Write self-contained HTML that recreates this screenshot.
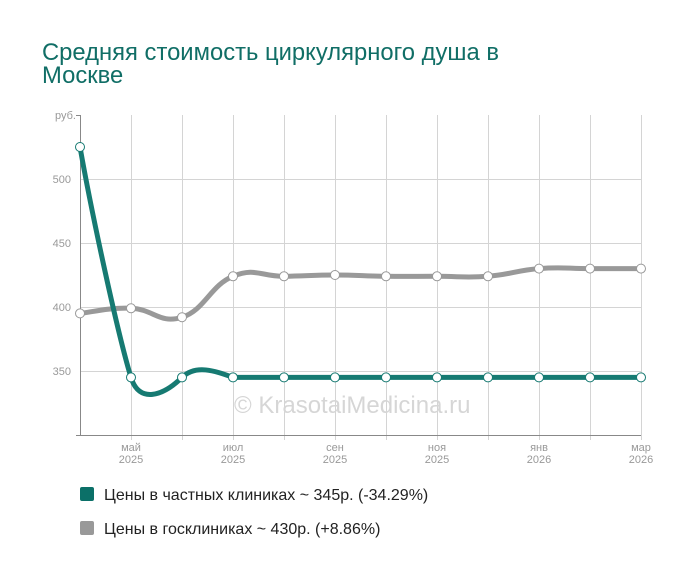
<!DOCTYPE html>
<html><head><meta charset="utf-8"><style>
body{margin:0;background:#fff;width:700px;height:578px;overflow:hidden;font-family:"Liberation Sans",sans-serif}
</style></head><body>
<svg id="s" width="700" height="578" xmlns="http://www.w3.org/2000/svg" font-family="Liberation Sans, sans-serif">
<text x="42" y="60" font-size="23.8" fill="#106e66">Средняя стоимость циркулярного душа в</text>
<text x="42" y="83" font-size="23.8" fill="#106e66">Москве</text>
<g stroke="#d4d4d4" stroke-width="1">
<line x1="80" y1="179.5" x2="641" y2="179.5"/><line x1="80" y1="243.5" x2="641" y2="243.5"/>
<line x1="80" y1="307.5" x2="641" y2="307.5"/><line x1="80" y1="371.5" x2="641" y2="371.5"/>
<g id="vg"></g>
</g>
<line x1="80.5" y1="115" x2="80.5" y2="435" stroke="#888"/>
<line x1="76" y1="115.5" x2="80" y2="115.5" stroke="#888"/>
<line x1="76" y1="435.5" x2="641" y2="435.5" stroke="#888"/>
<g font-size="11" fill="#999" text-anchor="end">
<text x="76" y="119">руб.</text>
<text x="71" y="183">500</text><text x="71" y="247">450</text><text x="71" y="311">400</text><text x="71" y="375">350</text>
</g>
<g font-size="11" fill="#999" text-anchor="middle">
<text x="131" y="451">май</text><text x="131" y="463">2025</text>
<text x="233" y="451">июл</text><text x="233" y="463">2025</text>
<text x="335" y="451">сен</text><text x="335" y="463">2025</text>
<text x="437" y="451">ноя</text><text x="437" y="463">2025</text>
<text x="539" y="451">янв</text><text x="539" y="463">2026</text>
<text x="641" y="451">мар</text><text x="641" y="463">2026</text>
</g>
<text x="234" y="413" font-size="24" fill="#d6d6d6">© KrasotaiMedicina.ru</text>
<g id="series"></g>
<rect x="80" y="487" width="14" height="14" rx="2" fill="#0b7068"/>
<text x="104" y="500" font-size="16" fill="#222">Цены в частных клиниках ~ 345р. (-34.29%)</text>
<rect x="80" y="521" width="14" height="14" rx="2" fill="#999"/>
<text x="104" y="534" font-size="16" fill="#222">Цены в госклиниках ~ 430р. (+8.86%)</text>
</svg>
<script>
var NS="http://www.w3.org/2000/svg";
function X(i){return 80+i*51;}
function Y(v){return 179+(500-v)*1.28;}
var vg=document.getElementById('vg');
for(var i=1;i<12;i++){var l=document.createElementNS(NS,'line');l.setAttribute('x1',X(i)+.5);l.setAttribute('x2',X(i)+.5);l.setAttribute('y1',115);l.setAttribute('y2',440);vg.appendChild(l);}
var A=[525,345,345,345,345,345,345,345,345,345,345,345];
var B=[395,399,392,424,424,425,424,424,424,430,430,430];
function path(d){var p=d.map(function(v,i){return [X(i),Y(v)];});var s="M"+p[0][0]+","+p[0][1];
for(var i=0;i<p.length-1;i++){var p0=p[Math.max(0,i-1)],p1=p[i],p2=p[i+1],p3=p[Math.min(p.length-1,i+2)];var t=4.5;
s+=" C"+(p1[0]+(p2[0]-p0[0])/t)+","+(p1[1]+(p2[1]-p0[1])/t)+" "+(p2[0]-(p3[0]-p1[0])/t)+","+(p2[1]-(p3[1]-p1[1])/t)+" "+p2[0]+","+p2[1];}return s;}
var yA=Y(345);
var pathA="M80,147 C92,215 118,335 131,"+yA+" C139,404 163,396 182,"+yA+" C196,364 215,371 233,"+yA+" L641,"+yA;
var g=document.getElementById('series');
[[B,"#999",path(B)],[A,"#167a72",pathA]].forEach(function(s){var e=document.createElementNS(NS,'path');e.setAttribute('d',s[2]);e.setAttribute('fill','none');e.setAttribute('stroke',s[1]);e.setAttribute('stroke-width','5');g.appendChild(e);
s[0].forEach(function(v,i){var c=document.createElementNS(NS,'circle');c.setAttribute('cx',X(i));c.setAttribute('cy',Y(v));c.setAttribute('r',4.5);c.setAttribute('fill','#fff');c.setAttribute('stroke',s[1]);c.setAttribute('stroke-width','1');g.appendChild(c);});});
</script>
</body></html>
